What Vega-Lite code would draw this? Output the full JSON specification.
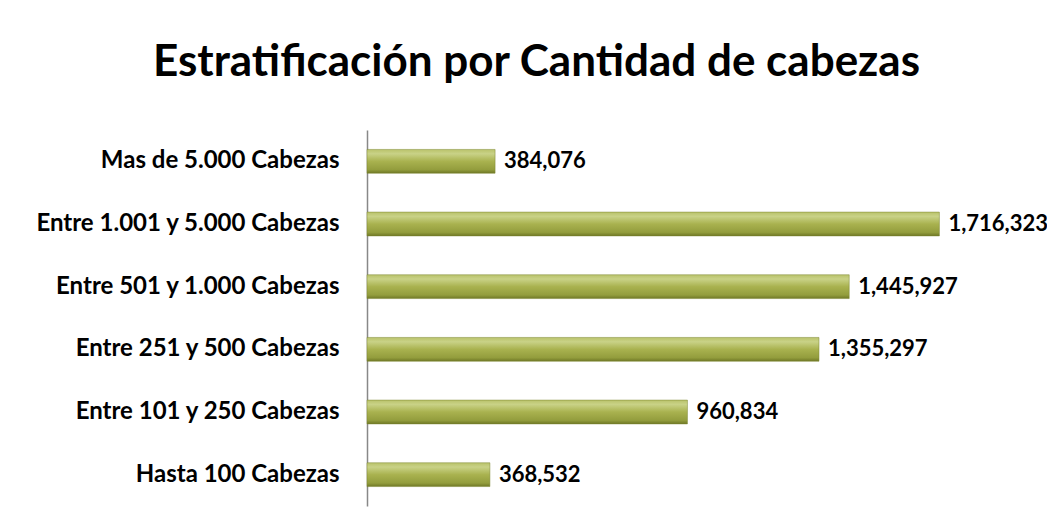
{
  "$schema": "https://vega.github.io/schema/vega-lite/v6.json",
  "autosize": {"type": "none"},
  "width": 667,
  "height": 376,
  "padding": {"left": 367, "top": 130, "right": 13, "bottom": 16},
  "background": "white",
  "title": {
    "text": "Estratificación por Cantidad de cabezas",
    "font": "Lato",
    "fontSize": 44,
    "fontWeight": "bold",
    "color": "#000000",
    "anchor": "middle",
    "dx": -164,
    "offset": 45
  },
  "data": {
    "values": [
      {"categoria": "Mas de 5.000 Cabezas", "valor": 384076},
      {"categoria": "Entre 1.001 y 5.000 Cabezas", "valor": 1716323},
      {"categoria": "Entre 501 y 1.000 Cabezas", "valor": 1445927},
      {"categoria": "Entre 251 y 500 Cabezas", "valor": 1355297},
      {"categoria": "Entre 101 y 250 Cabezas", "valor": 960834},
      {"categoria": "Hasta 100 Cabezas", "valor": 368532}
    ]
  },
  "encoding": {
    "y": {
      "field": "categoria",
      "type": "nominal",
      "sort": null,
      "scale": {"paddingInner": 0.62, "paddingOuter": 0.31},
      "axis": {
        "title": null,
        "ticks": false,
        "labelFont": "Lato",
        "labelFontSize": 24,
        "labelFontWeight": "bold",
        "labelColor": "#000000",
        "labelPadding": 28,
        "labelLimit": 400,
        "domainColor": "#888888",
        "domainWidth": 1.5
      }
    },
    "x": {
      "field": "valor",
      "type": "quantitative",
      "scale": {"domain": [0, 2000000]},
      "axis": null
    }
  },
  "layer": [
    {
      "mark": {
        "type": "bar",
        "fill": {
          "gradient": "linear",
          "x1": 0, "y1": 0, "x2": 0, "y2": 1,
          "stops": [
            {"offset": 0, "color": "#b9c26a"},
            {"offset": 0.18, "color": "#c9d287"},
            {"offset": 0.5, "color": "#a9b24f"},
            {"offset": 0.85, "color": "#939d3d"},
            {"offset": 1, "color": "#6f7826"}
          ]
        },
        "stroke": "#7d8730",
        "strokeWidth": 0.5
      }
    },
    {
      "mark": {
        "type": "text",
        "align": "left",
        "baseline": "middle",
        "dx": 9,
        "font": "Lato",
        "fontSize": 22,
        "fontWeight": "bold",
        "color": "#000000"
      },
      "encoding": {
        "text": {"field": "valor", "type": "quantitative", "format": ","}
      }
    }
  ],
  "config": {"view": {"stroke": null}}
}
